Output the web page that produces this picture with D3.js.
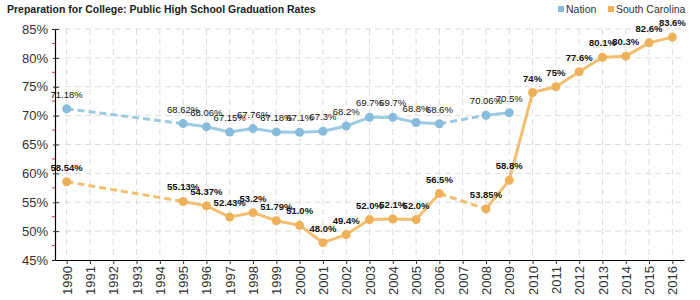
<!DOCTYPE html>
<html><head><meta charset="utf-8">
<script src="https://cdn.jsdelivr.net/npm/d3@7"></script>
<style>body{margin:0;background:#fff}svg{display:block;font-family:Arial,"Liberation Sans",sans-serif}</style>
</head><body><svg id="c" width="700" height="300"></svg>
<script>
const years = d3.range(1990, 2017);
const nationYears = [1990,1995,1996,1997,1998,1999,2000,2001,2002,2003,2004,2005,2006,2008,2009];
const nationValues = [71.18,68.62,68.06,67.15,67.76,67.18,67.1,67.3,68.2,69.7,69.7,68.8,68.6,70.06,70.5];
const nationLabels = ["71.18%","68.62%","68.06%","67.15%","67.76%","67.18%","67.1%","67.3%","68.2%","69.7%","69.7%","68.8%","68.6%","70.06%","70.5%"];
const scYears = [1990,1995,1996,1997,1998,1999,2000,2001,2002,2003,2004,2005,2006,2008,2009,2010,2011,2012,2013,2014,2015,2016];
const scValues = [58.54,55.13,54.37,52.43,53.2,51.79,51.0,48.0,49.4,52.0,52.1,52.0,56.5,53.85,58.8,74,75,77.6,80.1,80.3,82.6,83.6];
const scLabels = ["58.54%","55.13%","54.37%","52.43%","53.2%","51.79%","51.0%","48.0%","49.4%","52.0%","52.1%","52.0%","56.5%","53.85%","58.8%","74%","75%","77.6%","80.1%","80.3%","82.6%","83.6%"];
const yTicks = [45,50,55,60,65,70,75,80,85];
const yMinor = [47.5,52.5,57.5,62.5,67.5,72.5,77.5,82.5];
const seriesNames = ["Nation","South Carolina"];

const svg = d3.select("#c");
const L = 55, R = 684, T = 29, B = 260;
const x = d3.scalePoint().domain(years).range([L, R]).padding(0.5);
const y = d3.scaleLinear().domain([45, 85]).range([B, T]);

const blue = "#9ecbe4", blueDot = "#88bcdc";
const orange = "#f3be70", orangeDot = "#efb05a";

svg.append("text").attr("x", 7).attr("y", 13).attr("font-size", 10.5).attr("font-weight", "bold").attr("fill", "#222")
  .text("Preparation for College: Public High School Graduation Rates");

const leg = [{n: seriesNames[0], c: blueDot, x: 558}, {n: seriesNames[1], c: orangeDot, x: 608}];
leg.forEach(d => {
  svg.append("rect").attr("x", d.x).attr("y", 6).attr("width", 6).attr("height", 6).attr("fill", d.c);
  svg.append("text").attr("x", d.x + 8).attr("y", 12.5).attr("font-size", 10.5).attr("fill", "#333").text(d.n);
});

const g = svg.append("g");
g.selectAll(".hg").data(yTicks.filter(v => v > 45)).join("line")
  .attr("x1", L).attr("x2", R).attr("y1", d => y(d)).attr("y2", d => y(d))
  .attr("stroke", "#ddd").attr("stroke-dasharray", "6,4");
g.selectAll(".vg").data(years).join("line")
  .attr("x1", d => x(d)).attr("x2", d => x(d)).attr("y1", T).attr("y2", B)
  .attr("stroke", "#ddd").attr("stroke-dasharray", "6,4");

const ya = svg.append("g").attr("transform", `translate(${L},0)`)
  .call(d3.axisLeft(y).tickValues(yTicks).tickFormat(d => d + "%").tickSize(3).tickPadding(4));
ya.select(".domain").attr("stroke", "#000").attr("stroke-width", 1.2);
ya.selectAll(".tick line").attr("x1", -2).attr("x2", 4).attr("stroke", "#333");
ya.selectAll(".tick text").attr("font-size", 13).attr("fill", "#333").attr("font-family", "Arial,Liberation Sans,sans-serif");
svg.append("g").selectAll("line").data(yMinor).join("line")
  .attr("x1", L - 3).attr("x2", L).attr("y1", d => y(d)).attr("y2", d => y(d)).attr("stroke", "#e33");

const xa = svg.append("g").attr("transform", `translate(0,${B})`)
  .call(d3.axisBottom(x).tickSize(4).tickSizeOuter(0));
xa.select(".domain").attr("stroke", "#000").attr("stroke-width", 1.2);
xa.selectAll(".tick line").attr("stroke", "#333");
xa.selectAll(".tick text").attr("font-size", 13).attr("fill", "#333").attr("font-family", "Arial,Liberation Sans,sans-serif")
  .attr("transform", "rotate(-90)").attr("text-anchor", "end").attr("dx", "-6").attr("dy", "0.35em").attr("x", 0).attr("y", 0);

function drawSeries(yrs, vals, labels, lineC, dotC, weight) {
  const pts = yrs.map((yr, i) => ({yr, v: vals[i], lab: labels[i]}));
  const gs = svg.append("g");
  for (let i = 0; i < pts.length - 1; i++) {
    const a = pts[i], b = pts[i + 1];
    const gap = b.yr - a.yr > 1;
    gs.append("line").attr("x1", x(a.yr)).attr("y1", y(a.v)).attr("x2", x(b.yr)).attr("y2", y(b.v))
      .attr("stroke", lineC).attr("stroke-width", 3).attr("stroke-dasharray", gap ? "7,4" : null);
  }
  gs.selectAll("circle").data(pts).join("circle")
    .attr("cx", d => x(d.yr)).attr("cy", d => y(d.v)).attr("r", 4.5).attr("fill", dotC);
  gs.selectAll("text").data(pts).join("text")
    .attr("x", d => x(d.yr)).attr("y", d => y(d.v) - 11).attr("text-anchor", "middle")
    .attr("font-size", 9.5).attr("font-weight", weight).attr("fill", "#111").text(d => d.lab);
}
drawSeries(nationYears, nationValues, nationLabels, blue, blueDot, "normal");
drawSeries(scYears, scValues, scLabels, orange, orangeDot, "bold");
</script></body></html>
